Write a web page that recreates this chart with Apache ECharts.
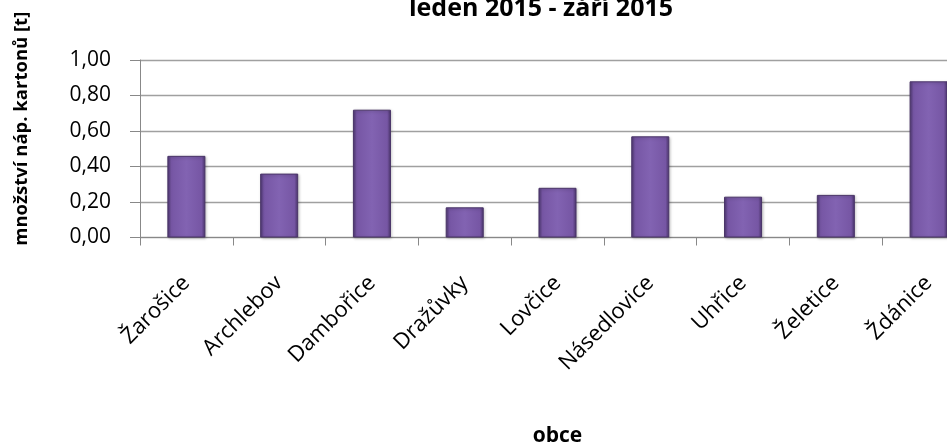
<!DOCTYPE html>
<html>
<head>
<meta charset="utf-8">
<script src="https://cdn.jsdelivr.net/npm/echarts@6/dist/echarts.min.js"></script>
<style>
html,body{margin:0;padding:0;background:#fff;}
#c{width:947px;height:447px;}
</style>
</head>
<body>
<div id="c"></div>
<script>
const categories = ["Žarošice","Archlebov","Dambořice","Dražůvky","Lovčice","Násedlovice","Uhřice","Želetice","Ždánice"];
const values = [0.46, 0.36, 0.72, 0.17, 0.28, 0.57, 0.23, 0.24, 0.88];
const titleText = "leden 2015 - září 2015";
const yName = "množství náp. kartonů [t]";
const xName = "obce";

const FONT = "'Open Sans', 'Noto Sans', sans-serif";
const chart = echarts.init(document.getElementById('c'), null, {renderer:'canvas'});
chart.setOption({
  animation: false,
  title: {
    text: titleText,
    left: 536, top: -9, textAlign: 'center',
    textStyle: {fontFamily: FONT, fontSize: 25, fontWeight: 'bold', color: '#000'}
  },
  grid: {left: 140, top: 60, right: -28, height: 177.5, containLabel: false, outerBoundsMode: 'none'},
  xAxis: {
    type: 'category',
    data: categories,
    name: xName,
    nameLocation: 'middle',
    nameGap: 188,
    nameTextStyle: {fontFamily: FONT, fontSize: 21, fontWeight: 'bold', color: '#000'},
    axisLine: {show: true, lineStyle: {color: '#888', width: 1}},
    axisTick: {show: true, length: 8, lineStyle: {color: '#888'}},
    axisLabel: {rotate: 45, margin: 42, interval: 0, fontFamily: FONT, fontSize: 22, color: '#000'}
  },
  yAxis: {
    type: 'value',
    min: 0, max: 1, interval: 0.2,
    name: yName,
    nameLocation: 'middle',
    nameGap: 109,
    nameTextStyle: {fontFamily: FONT, fontSize: 18.5, fontWeight: 'bold', color: '#000', padding: [0,0,0,40]},
    axisLine: {show: true, lineStyle: {color: '#888', width: 1}},
    axisTick: {show: true, length: 10, lineStyle: {color: '#888'}},
    axisLabel: {margin: 29, fontFamily: FONT, fontSize: 21, color: '#000',
      formatter: v => v.toFixed(2).replace('.', ',')},
    splitLine: {show: true, lineStyle: {color: '#a0a0a0', width: 1.3}}
  },
  series: [{
    type: 'bar',
    data: values,
    barWidth: '41%',
    itemStyle: {
      color: new echarts.graphic.LinearGradient(0, 0, 1, 0, [
        {offset: 0, color: '#4e3872'},
        {offset: 0.1, color: '#7656a4'},
        {offset: 0.5, color: '#8263b2'},
        {offset: 0.9, color: '#7656a4'},
        {offset: 1, color: '#4a346c'}
      ]),
      borderColor: '#4a3568',
      borderWidth: 1,
      shadowColor: 'rgba(0,0,0,0.25)',
      shadowBlur: 3,
      shadowOffsetX: 1,
      shadowOffsetY: 1
    }
  }]
});
</script>
</body>
</html>
